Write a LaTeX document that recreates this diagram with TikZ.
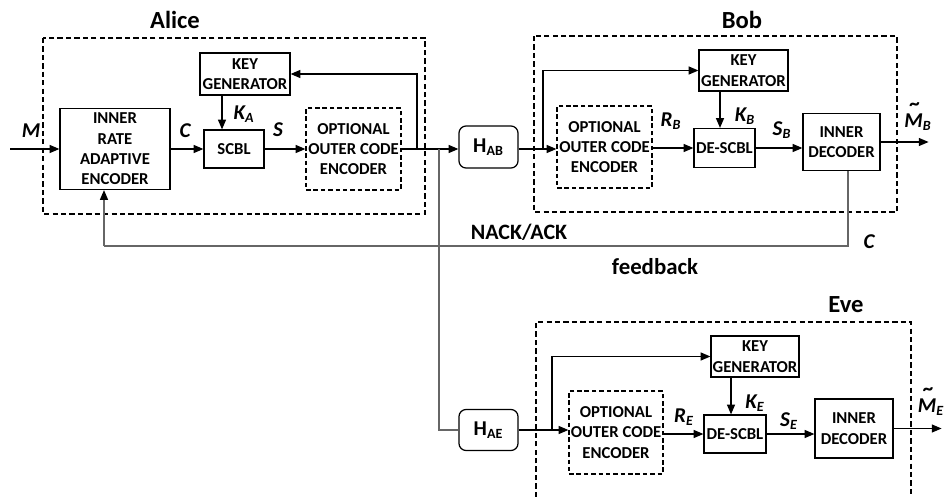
\documentclass[tikz,border=0pt]{standalone}
\usepackage{fontspec}
\setmainfont{Carlito}
\usetikzlibrary{arrows.meta}
\newcommand{\tldM}{{\ooalign{M\cr\hidewidth\raisebox{0.78em}{\hspace{0.14em}\textasciitilde}\hidewidth\cr}}}
\tikzset{
  blk/.style={draw, line width=0.7pt, align=center, inner sep=0pt, font=\bfseries\fontsize{9.5}{11.6}\selectfont},
  optblk/.style={blk, dash pattern=on 2.6pt off 1.6pt},
  chan/.style={draw, rounded corners=4pt, line width=0.7pt, inner sep=0pt, minimum width=1.18cm, minimum height=0.84cm},
  arr/.style={-{Triangle[length=5.5pt,width=4.5pt,color=black]}, line width=0.7pt},
  fb/.style={line width=0.9pt, draw=black!60},
  grp/.style={dash pattern=on 3pt off 1.8pt, line width=0.6pt},
  ttl/.style={font=\bfseries\fontsize{14}{16}\selectfont},
  sig/.style={inner sep=0pt, font=\bfseries\itshape\fontsize{12}{14}\selectfont},
}
\begin{document}
\begin{tikzpicture}[x=0.02cm,y=-0.02cm]
  \useasboundingbox (0,0) rectangle (948,497);

  % group frames
  \draw[grp] (43,38) rectangle (425,214);
  \draw[grp] (534,36) rectangle (897,212);
  \draw[grp] (536,497) -- (536,322) -- (911,322) -- (911,497);
  \node[ttl] (tA) at (175,20) {Alice};
  \node[ttl] (tB) at (742,20) {Bob};
  \node[ttl] (tE) at (846,305) {Eve};

  % Alice
  \node[blk, minimum width=2.2cm, minimum height=1.62cm] (enc) at (115,149) {INNER\\RATE\\ADAPTIVE\\ENCODER};
  \node[blk, minimum width=1.8cm, minimum height=0.84cm] (keyA) at (245,74) {KEY\\GENERATOR};
  \node[blk, minimum width=1.2cm, minimum height=0.76cm] (scbl) at (234,149) {SCBL};
  \node[optblk, minimum width=1.9cm, minimum height=1.64cm] (outA) at (353.5,149) {OPTIONAL\\OUTER CODE\\ENCODER};

  % channels
  \node[chan] (hab) at (488.5,147) {\bfseries\fontsize{12}{14}\selectfont H\textsubscript{AB}};
  \node[chan, minimum height=0.82cm] (hae) at (488.5,430) {\bfseries\fontsize{12}{14}\selectfont H\textsubscript{AE}};

  % Bob
  \node[optblk, minimum width=1.9cm, minimum height=1.64cm] (outB) at (604.5,147) {OPTIONAL\\OUTER CODE\\ENCODER};
  \node[blk, minimum width=1.78cm, minimum height=0.82cm] (keyB) at (743.5,70.5) {KEY\\GENERATOR};
  \node[blk, minimum width=1.22cm, minimum height=0.78cm] (dscB) at (724.5,148) {DE-SCBL};
  \node[blk, minimum width=1.54cm, minimum height=1.14cm] (decB) at (841.5,142) {INNER\\DECODER};

  % Eve
  \node[optblk, minimum width=1.88cm, minimum height=1.66cm] (outE) at (616,432.5) {OPTIONAL\\OUTER CODE\\ENCODER};
  \node[blk, minimum width=1.76cm, minimum height=0.82cm] (keyE) at (755,356.5) {KEY\\GENERATOR};
  \node[blk, minimum width=1.24cm, minimum height=0.76cm] (dscE) at (735,434) {DE-SCBL};
  \node[blk, minimum width=1.56cm, minimum height=1.18cm] (decE) at (854,428.5) {INNER\\DECODER};

  \coordinate (min) at (10,149);
  \coordinate (jA) at (417,149);
  \coordinate (jD) at (439,149);
  \coordinate (jB) at (543,149);
  \coordinate (jE) at (552,430);
  \coordinate (fbR) at (848,246);
  \coordinate (fbL) at (104,246);

  % Alice connectors
  \draw[arr] (min) -- (enc.west);
  \draw[arr] (enc.east) -- (scbl.west);
  \draw[arr] ([xshift=-0.46cm]keyA.south) coordinate (ka) -- (ka |- scbl.north);
  \draw[arr] (scbl.east) -- (outA.west);
  \draw[arr] (outA.east) -- (outA.east -| hab.west);
  \draw[arr] (jA) |- (keyA.east);
  \draw[fb] (jD) |- (hae.west);

  % Bob connectors
  \draw[arr] (hab.east |- jB) -- (jB -| outB.west);
  \draw[arr] (jB) |- (keyB.west);
  \draw[arr] ([xshift=-0.47cm]keyB.south) coordinate (kb) -- (kb |- dscB.north);
  \draw[arr] (outB.east |- dscB.west) -- (dscB.west);
  \draw[arr] (dscB.east) -- (dscB.east -| decB.west);
  \draw[arr] (decB.east) -- ++(48,0);

  % feedback
  \draw[fb] (fbR |- decB.south) -- (fbR) -- (fbL);
  \draw[fb, arr] (fbL) -- (fbL |- enc.south);
  \node[font=\bfseries\fontsize{12.5}{14}\selectfont] (nack) at (519,232) {NACK/ACK};
  \node[font=\bfseries\fontsize{13}{15}\selectfont] (fbk) at (655,267) {feedback};

  % Eve connectors
  \draw[arr] (hae.east) -- (hae.east -| outE.west);
  \draw[arr] (jE) |- (keyE.west);
  \draw[arr] ([xshift=-0.48cm]keyE.south) coordinate (ke) -- (ke |- dscE.north);
  \draw[arr] (outE.east |- dscE.west) -- (dscE.west);
  \draw[arr] (dscE.east) -- (dscE.east -| decE.west);
  \draw[arr] (decE.east) -- ++(48,0);

  % signal labels
  \node[sig] (lM) at (31,131) {M};
  \node[sig] (lC) at (185,131) {C};
  \node[sig] (lKA) at (244,114) {K\textsubscript{A}};
  \node[sig] (lS) at (278,130) {S};
  \node[sig] (lRB) at (671,121) {R\textsubscript{B}};
  \node[sig] (lKB) at (745,116) {K\textsubscript{B}};
  \node[sig] (lSB) at (782,130) {S\textsubscript{B}};
  \node[sig] (lMB) at (918,122) {\tldM\textsubscript{B}};
  \node[sig] (lCf) at (869,242) {C};
  \node[sig] (lRE) at (684,417) {R\textsubscript{E}};
  \node[sig] (lKE) at (755,403) {K\textsubscript{E}};
  \node[sig] (lSE) at (789,421) {S\textsubscript{E}};
  \node[sig] (lME) at (931,407) {\tldM\textsubscript{E}};
\end{tikzpicture}
\end{document}
